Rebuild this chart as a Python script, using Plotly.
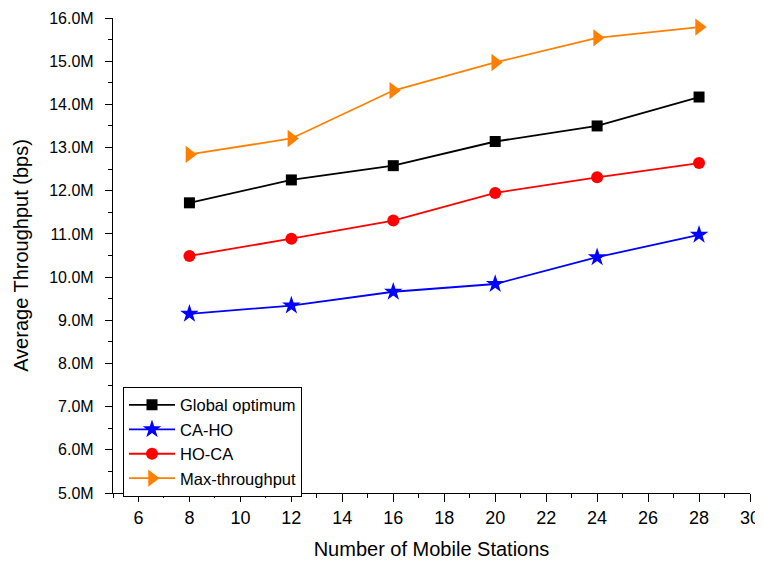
import plotly.graph_objects as go

stations = [8, 12, 16, 20, 24, 28]
global_opt = [11.72, 12.25, 12.58, 13.14, 13.50, 14.17]
ca_ho = [9.15, 9.34, 9.66, 9.84, 10.46, 10.98]
ho_ca = [10.49, 10.89, 11.31, 11.95, 12.31, 12.64]
max_tp = [12.84, 13.21, 14.32, 14.97, 15.54, 15.79]

series = [
    ("Global optimum", global_opt, "#000000", "square", 11),
    ("CA-HO", ca_ho, "#0000FF", "star", 14),
    ("HO-CA", ho_ca, "#FF0000", "circle", 12),
    ("Max-throughput", max_tp, "#FF8000", "triangle-right", 15),
]

fig = go.Figure()
for name, vals, color, sym, size in series:
    fig.add_trace(go.Scatter(
        x=stations, y=vals, name=name, mode="lines+markers",
        line=dict(color=color, width=1.8),
        marker=dict(symbol=sym, size=size, color=color, line=dict(width=0)),
    ))

font = "Liberation Sans, Arial, sans-serif"
fig.update_layout(
    width=755, height=556,
    margin=dict(l=105, r=13, t=10, b=71),
    paper_bgcolor="white", plot_bgcolor="white",
    font=dict(family=font, size=16, color="black"),
    showlegend=True,
    legend=dict(
        x=0.0157, y=0.224, xanchor="left", yanchor="top",
        bordercolor="black", borderwidth=1, bgcolor="white",
        font=dict(size=16.5, family=font), tracegroupgap=0,
        itemwidth=46,
    ),
    xaxis=dict(
        range=[5, 30], tickmode="array", tickvals=list(range(6, 31, 2)),
        showgrid=False, zeroline=False, showline=True, linecolor="black", linewidth=1.2,
        ticks="outside", ticklen=8, tickwidth=1.2, tickcolor="black",
        minor=dict(ticks="outside", ticklen=4, tickwidth=1.2, tickcolor="black", dtick=1, tick0=5, showgrid=False),
        title=dict(text="Number of Mobile Stations", font=dict(size=20, family=font)),
        tickfont=dict(size=18, family=font),
        automargin=False,
    ),
    yaxis=dict(
        range=[5, 16], dtick=1, tick0=5, tickformat=".1f", ticksuffix="M",
        showgrid=False, zeroline=False, showline=True, linecolor="black", linewidth=1.2,
        ticks="outside", ticklen=7, tickwidth=1.2, tickcolor="black",
        ticklabelstandoff=8,
        minor=dict(ticks="outside", ticklen=4, tickwidth=1.2, tickcolor="black", dtick=0.5, showgrid=False),
        title=dict(text="Average Throughput (bps)", font=dict(size=20, family=font)),
        tickfont=dict(size=16, family=font),
        automargin=False,
    ),
)

fig.write_html("out.html")
